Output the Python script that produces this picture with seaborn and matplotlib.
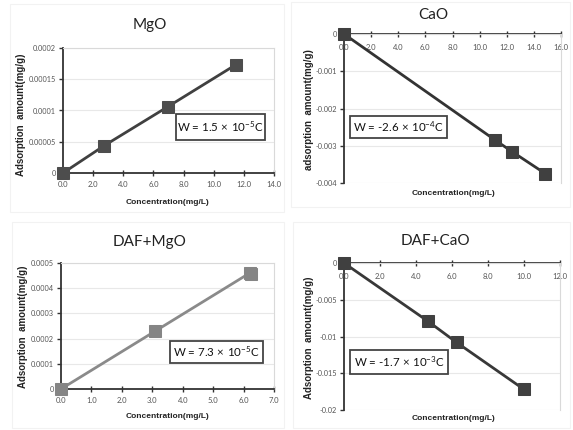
import matplotlib
matplotlib.use("Agg")
import matplotlib.pyplot as plt
import seaborn as sns
from matplotlib.patches import Rectangle

# ---------------- data ----------------
mgo_x = [0.0, 2.75, 6.95, 11.45]
mgo_y = [0.0, 0.000044, 0.000106, 0.000173]

cao_x = [0.0, 11.15, 12.4, 14.85]
cao_y = [0.0, -0.00285, -0.00316, -0.00375]

dmgo_x = [0.0, 3.1, 6.2, 6.25]
dmgo_y = [0.0, 0.000230, 0.000460, 0.000456]

dcao_x = [0.0, 4.65, 6.25, 10.0]
dcao_y = [0.0, -0.0079, -0.0108, -0.0172]

titles = ["MgO", "CaO", "DAF+MgO", "DAF+CaO"]
equations = [r"W = 1.5$\,\times\,$10$^{-5}$C", r"W = -2.6$\,\times\,$10$^{-4}$C",
             r"W = 7.3$\,\times\,$10$^{-5}$C", r"W = -1.7$\,\times\,$10$^{-3}$C"]
ylabels = ["Adsorption  amount(mg/g)", "adsorption  amount(mg/g)",
           "Adsorption  amount(mg/g)", "Adsorption  amount(mg/g)"]
xlabel = "Concentration(mg/L)"

mgo_yticks = [0, 0.00005, 0.0001, 0.00015, 0.0002]
mgo_yticklabels = ["0", "0.00005", "0.0001", "0.00015", "0.0002"]
mgo_xticks = [0, 2, 4, 6, 8, 10, 12, 14]
cao_yticks = [0, -0.001, -0.002, -0.003, -0.004]
cao_yticklabels = ["0", "-0.001", "-0.002", "-0.003", "-0.004"]
cao_xticks = [0, 2, 4, 6, 8, 10, 12, 14, 16]
dmgo_yticks = [0, 0.0001, 0.0002, 0.0003, 0.0004, 0.0005]
dmgo_yticklabels = ["0", "0.0001", "0.0002", "0.0003", "0.0004", "0.0005"]
dmgo_xticks = [0, 1, 2, 3, 4, 5, 6, 7]
dcao_yticks = [0, -0.005, -0.01, -0.015, -0.02]
dcao_yticklabels = ["0", "-0.005", "-0.01", "-0.015", "-0.02"]
dcao_xticks = [0, 2, 4, 6, 8, 10, 12]

# ---------------- style ----------------
sns.set_style("white")
plt.rcParams['font.family'] = ['Lato', 'Liberation Sans', 'DejaVu Sans']
plt.rcParams['mathtext.fontset'] = 'custom'
plt.rcParams['mathtext.rm'] = 'Lato'
plt.rcParams['mathtext.it'] = 'Lato'
plt.rcParams['mathtext.default'] = 'regular'

LABEL_FONT = ['Liberation Sans Narrow', 'Liberation Sans', 'DejaVu Sans']

W, H = 573, 430
fig = plt.figure(figsize=(W / 100, H / 100), dpi=100)
fig.patch.set_facecolor("white")

def px_axes(l, t, r, b):
    return fig.add_axes([l / W, 1 - b / H, (r - l) / W, (b - t) / H])

# faint chart-area borders
for (l, t, r, b) in [(10, 4, 284, 212), (291, 2, 570, 207), (12, 222, 284, 428), (293, 222, 570, 428)]:
    fig.add_artist(Rectangle((l / W, 1 - b / H), (r - l) / W, (b - t) / H,
                             transform=fig.transFigure, fill=False,
                             edgecolor="#f2f2f2", linewidth=0.8))

panels = [
    dict(x=mgo_x, y=mgo_y, box=(63, 48, 274, 173), xlim=(0, 14), ylim=(0, 0.0002),
         xt=mgo_xticks, yt=mgo_yticks, ytl=mgo_yticklabels, neg=False,
         title_pos=(150, 25), xl_pos=(168, 202), yl_pos=(21, 115),
         eq_box=(176, 114, 265, 140), line="#404040", mk="#4d4d4d"),
    dict(x=cao_x, y=cao_y, box=(344, 34, 561, 183), xlim=(0, 16), ylim=(-0.004, 0),
         xt=cao_xticks, yt=cao_yticks, ytl=cao_yticklabels, neg=True,
         title_pos=(433, 15), xl_pos=(453, 193), yl_pos=(309, 110),
         eq_box=(350, 116, 447, 138), line="#333333", mk="#404040"),
    dict(x=dmgo_x, y=dmgo_y, box=(61, 263, 274, 389), xlim=(0, 7), ylim=(0, 0.0005),
         xt=dmgo_xticks, yt=dmgo_yticks, ytl=dmgo_yticklabels, neg=False,
         title_pos=(150, 242), xl_pos=(168, 417), yl_pos=(23, 327),
         eq_box=(170, 341, 263, 363), line="#8a8a8a", mk="#858585"),
    dict(x=dcao_x, y=dcao_y, box=(344, 263, 560, 410), xlim=(0, 12), ylim=(-0.02, 0),
         xt=dcao_xticks, yt=dcao_yticks, ytl=dcao_yticklabels, neg=True,
         title_pos=(435, 241), xl_pos=(453, 418), yl_pos=(309, 338),
         eq_box=(350, 350, 448, 374), line="#383838", mk="#404040"),
]

for i, p in enumerate(panels):
    l, t, r, b = p["box"]
    ax = px_axes(l, t, r, b)
    ax.set_xlim(*p["xlim"])
    ax.set_ylim(*p["ylim"])
    ax.set_yticks(p["yt"])
    ax.set_yticklabels(p["ytl"])
    ax.set_xticks(p["xt"])
    ax.set_xticklabels([f"{v:.1f}" for v in p["xt"]])
    ax.grid(axis="y", color="#e8e8e8", linewidth=0.8)
    ax.set_axisbelow(True)
    for s in ax.spines.values():
        s.set_color("#d9d9d9")
        s.set_linewidth(0.8)
    ax.spines["left"].set_color("#333333")
    ax.spines["left"].set_linewidth(1.3)
    if p["neg"]:
        ax.spines["bottom"].set_position(("data", 0))
    ax.spines["bottom"].set_color("#333333")
    ax.spines["bottom"].set_linewidth(1.3)
    ax.tick_params(axis="x", direction="inout", length=4, width=1, color="#333333",
                   labelsize=5.5, labelcolor="#555555", pad=5 if p["neg"] else 4)
    ax.tick_params(axis="y", direction="out", length=3, width=1, color="#333333",
                   labelsize=5.3, labelcolor="#555555", pad=2)
    ax.tick_params(left=True, bottom=True)

    sns.lineplot(x=p["x"], y=p["y"], ax=ax, color=p["line"], linewidth=2.0,
                 marker="s", markersize=8.5, markerfacecolor=p["mk"],
                 markeredgecolor=p["mk"], clip_on=False, zorder=5)

    # title
    fig.text(p["title_pos"][0] / W, 1 - p["title_pos"][1] / H, titles[i],
             ha="center", va="center", fontsize=11, color="#222222")
    # labels
    fig.text(p["xl_pos"][0] / W, 1 - p["xl_pos"][1] / H, xlabel,
             ha="center", va="center", fontsize=6, fontweight="bold",
             color="#222222", family=LABEL_FONT)
    fig.text(p["yl_pos"][0] / W, 1 - p["yl_pos"][1] / H, ylabels[i],
             ha="center", va="center", rotation=90, fontsize=7,
             fontweight="bold", color="#222222", family=LABEL_FONT)
    # equation box
    el, et, er, eb = p["eq_box"]
    fig.add_artist(Rectangle((el / W, 1 - eb / H), (er - el) / W, (eb - et) / H,
                             transform=fig.transFigure, facecolor="white",
                             edgecolor="#444444", linewidth=1.3, zorder=10))
    fig.text((el + er) / 2 / W, 1 - (et + eb) / 2 / H, equations[i],
             ha="center", va="center", fontsize=8.3, color="#111111", zorder=11)

fig.savefig("out.png", dpi=100, facecolor="white")
